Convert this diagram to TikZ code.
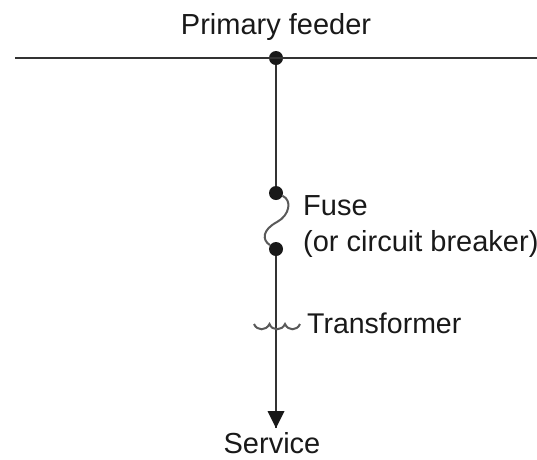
\documentclass[tikz,border=0pt]{standalone}
\usepackage{fontspec}
\setmainfont{Liberation Sans}
\usetikzlibrary{arrows.meta}
\tikzset{
  wire/.style={draw=black!80,line width=2.5pt},
  fine wire/.style={draw=black!65,line width=2pt},
  dot/.style={circle,fill=black!90,inner sep=0pt,minimum size=14pt},
  lbl/.style={inner sep=0pt,text=black!90,font=\fontsize{29}{32}\selectfont}
}
\begin{document}
\begin{tikzpicture}[x=1pt,y=-1pt]
\useasboundingbox (0,0) rectangle (537,459);
\coordinate (busL) at (15,58);
\coordinate (busR) at (537,58);
\node[dot] (tap) at (276,58) {};
\node[dot] (fuseT) at (276,193) {};
\node[dot] (fuseB) at (276,249) {};
\coordinate (end) at (276,428);
\coordinate (xfL) at (254,324);
\coordinate (xf1) at (269.5,324);
\coordinate (xf2) at (285,324);
\coordinate (xfR) at (300,324);
\draw[wire] (busL) -- (busR);
\draw[wire] (tap) -- (fuseT);
\draw[wire] (fuseB) -- (end);
\fill[black!90] (end) -- (267.5,411) -- (284.5,411) -- cycle;
\draw[fine wire] (fuseT) .. controls (292,200) and (290,215) .. (277,222)
  .. controls (262,230) and (262,240) .. (fuseB);
\draw[fine wire] (xfL) .. controls (257,331) and (266,331) .. (xf1)
  .. controls (272,331) and (282,331) .. (xf2)
  .. controls (288,331) and (297,331) .. (xfR);
\node[lbl,anchor=base] (feeder) at (276,34) {Primary feeder};
\node[lbl,anchor=base west] (fuse) at (303,215) {Fuse};
\node[lbl,anchor=base west] (cb) at (303,251) {(or circuit breaker)};
\node[lbl,anchor=base west,font=\fontsize{28.5}{32}\selectfont] (xf) at (307,333) {Transformer};
\node[lbl,anchor=base] (svc) at (272,453) {Service};
\end{tikzpicture}
\end{document}
